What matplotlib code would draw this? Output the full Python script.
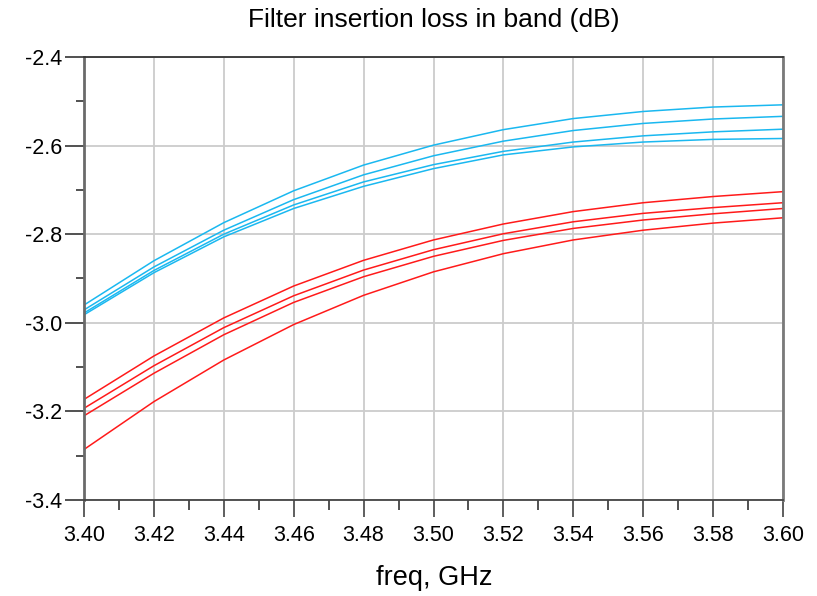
import matplotlib
matplotlib.use("Agg")
import matplotlib.pyplot as plt
from matplotlib.ticker import MultipleLocator, FormatStrFormatter

plt.rcParams['font.family'] = ['Liberation Sans', 'DejaVu Sans']

# frequency points, GHz
freq = [3.40, 3.42, 3.44, 3.46, 3.48, 3.50, 3.52, 3.54, 3.56, 3.58, 3.60]

# insertion loss, dB
blue_1 = [-2.960, -2.860, -2.774, -2.702, -2.644, -2.599, -2.564, -2.539, -2.523, -2.513, -2.508]
blue_2 = [-2.971, -2.874, -2.791, -2.722, -2.666, -2.623, -2.590, -2.566, -2.550, -2.540, -2.534]
blue_3 = [-2.978, -2.882, -2.800, -2.734, -2.682, -2.643, -2.613, -2.592, -2.578, -2.569, -2.563]
blue_4 = [-2.982, -2.887, -2.806, -2.742, -2.692, -2.652, -2.621, -2.603, -2.592, -2.586, -2.584]

red_1 = [-3.173, -3.075, -2.989, -2.917, -2.859, -2.813, -2.777, -2.749, -2.729, -2.715, -2.704]
red_2 = [-3.193, -3.097, -3.011, -2.939, -2.881, -2.835, -2.799, -2.772, -2.753, -2.740, -2.729]
red_3 = [-3.210, -3.114, -3.027, -2.954, -2.896, -2.850, -2.814, -2.787, -2.768, -2.754, -2.742]
red_4 = [-3.286, -3.178, -3.084, -3.004, -2.938, -2.885, -2.844, -2.813, -2.791, -2.775, -2.763]

fig = plt.figure(figsize=(8.17, 5.96), dpi=100)
ax = fig.add_axes([0.1028, 0.1611, 0.8556, 0.7433])

for s in [blue_1, blue_2, blue_3, blue_4]:
    ax.plot(freq, s, color="#1ab8f0", linewidth=1.1)
for s in [red_1, red_2, red_3, red_4]:
    ax.plot(freq, s, color="#ff1a1a", linewidth=1.1)

ax.set_xlim(3.40, 3.60)
ax.set_ylim(-3.4, -2.4)
ax.xaxis.set_major_locator(MultipleLocator(0.02))
ax.xaxis.set_minor_locator(MultipleLocator(0.01))
ax.yaxis.set_major_locator(MultipleLocator(0.2))
ax.yaxis.set_minor_locator(MultipleLocator(0.1))
ax.xaxis.set_major_formatter(FormatStrFormatter("%.2f"))
ax.yaxis.set_major_formatter(FormatStrFormatter("%.1f"))

ax.grid(which="major", color="#cccccc", linewidth=1.3)
ax.set_axisbelow(True)

ax.tick_params(axis="y", which="major", length=14, width=1.1, color="#222222",
               labelsize=15.5, pad=2)
ax.tick_params(axis="y", which="minor", length=6, width=1.1, color="#222222")
ax.tick_params(axis="x", which="major", length=12, width=1.1, color="#333333",
               labelsize=15.5, pad=6)
ax.tick_params(axis="x", which="minor", length=7, width=1.1, color="#222222")

ax.spines["left"].set_color("#6a6a6a")
ax.spines["left"].set_linewidth(2)
ax.spines["right"].set_color("#7a7a7a")
ax.spines["right"].set_linewidth(2)
ax.spines["top"].set_color("#333333")
ax.spines["top"].set_linewidth(1.3)
ax.spines["bottom"].set_color("#444444")
ax.spines["bottom"].set_linewidth(1.3)

fig.text(0.531, 0.966, "Filter insertion loss in band (dB)", ha="center", va="center",
         fontsize=19)
fig.text(0.531, 0.030, "freq, GHz", ha="center", va="center", fontsize=19.5)

fig.savefig("out.png", dpi=100)
